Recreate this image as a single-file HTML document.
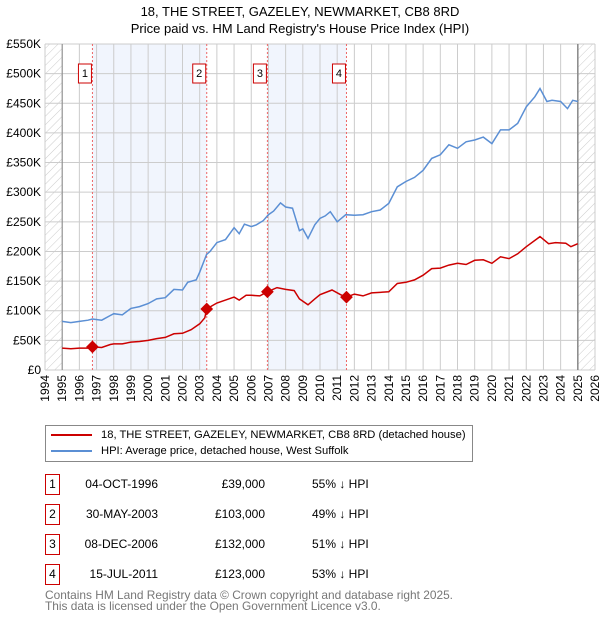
<!DOCTYPE html>
<html><head><meta charset="utf-8"><style>
body{margin:0;background:#fff;font-family:"Liberation Sans","DejaVu Sans",sans-serif;}
#wrap{position:relative;width:600px;height:620px;overflow:hidden}
.t{position:absolute;font-size:12px;color:#000;white-space:nowrap}
.box{position:absolute;border:1px solid #c00;width:13px;height:19px;font-size:12px;text-align:center;line-height:19px}
</style></head><body>
<div id="wrap">
<div class="t" style="left:0;width:600px;text-align:center;top:4px;font-size:13px">18, THE STREET, GAZELEY, NEWMARKET, CB8 8RD</div>
<div class="t" style="left:0;width:600px;text-align:center;top:21px;font-size:13px">Price paid vs. HM Land Registry's House Price Index (HPI)</div>
<svg id="chart" width="600" height="420" style="position:absolute;left:0;top:0"></svg>
<div style="position:absolute;left:45px;top:425px;width:426px;height:35px;border:1px solid #888">
 <div style="position:absolute;left:5px;top:3px;font-size:11.2px;white-space:nowrap"><span style="display:inline-block;width:41px;height:2px;background:#c00;vertical-align:middle;margin-right:9px"></span>18, THE STREET, GAZELEY, NEWMARKET, CB8 8RD (detached house)</div>
 <div style="position:absolute;left:5px;top:19px;font-size:11.2px;white-space:nowrap"><span style="display:inline-block;width:41px;height:2px;background:#5b8fd4;vertical-align:middle;margin-right:9px"></span>HPI: Average price, detached house, West Suffolk</div>
</div>
<div id="tbl"></div>
<div class="t" style="left:45px;top:590px;color:#777;font-size:11.9px;line-height:11px">Contains HM Land Registry data © Crown copyright and database right 2025.<br>This data is licensed under the Open Government Licence v3.0.</div>
</div>
<script>
const yTicks=[0,50000,100000,150000,200000,250000,300000,350000,400000,450000,500000,550000];
const yTickLabels=["£0","£50K","£100K","£150K","£200K","£250K","£300K","£350K","£400K","£450K","£500K","£550K"];
const years=[1994,1995,1996,1997,1998,1999,2000,2001,2002,2003,2004,2005,2006,2007,2008,2009,2010,2011,2012,2013,2014,2015,2016,2017,2018,2019,2020,2021,2022,2023,2024,2025,2026];
const hpiT=[1995,1995.5,1996,1996.5,1996.76,1997.3,1997.8,1998,1998.5,1999,1999.5,2000,2000.5,2001,2001.5,2002,2002.3,2002.8,2003,2003.4,2003.6,2004,2004.5,2005,2005.3,2005.6,2006,2006.3,2006.7,2007,2007.3,2007.7,2008,2008.4,2008.8,2009,2009.3,2009.7,2010,2010.3,2010.6,2011,2011.5,2012,2012.5,2013,2013.5,2014,2014.5,2015,2015.5,2016,2016.5,2017,2017.5,2018,2018.5,2019,2019.5,2020,2020.5,2021,2021.5,2022,2022.5,2022.8,2023.2,2023.5,2024,2024.4,2024.7,2025];
const hpiV=[82000,80000,82000,84000,86000,84000,92000,95000,93000,104000,107000,112000,120000,122000,136000,135000,148000,152000,165000,195000,200000,215000,220000,240000,230000,246000,242000,245000,252000,262000,268000,282000,275000,273000,235000,238000,222000,245000,256000,260000,267000,250000,262000,261000,262000,267000,270000,281000,309000,318000,325000,337000,357000,363000,380000,374000,385000,388000,393000,382000,405000,405000,416000,444000,461000,475000,453000,455000,453000,441000,455000,453000];
const ppT=[1995,1995.5,1996,1996.5,1996.76,1997.3,1997.8,1998,1998.5,1999,1999.5,2000,2000.5,2001,2001.5,2002,2002.5,2003,2003.3,2003.41,2004,2004.5,2005,2005.3,2005.7,2006,2006.5,2006.94,2007.5,2008,2008.5,2008.8,2009.3,2009.7,2010,2010.7,2011.2,2011.54,2012,2012.5,2013,2014,2014.5,2015,2015.5,2016,2016.5,2017,2017.5,2018,2018.5,2019,2019.5,2020,2020.5,2021,2021.5,2022,2022.8,2023.3,2023.7,2024.3,2024.6,2025];
const ppV=[37000,36000,37000,37000,39000,38000,43000,44000,44000,47000,48000,50000,53000,55000,61000,62000,68000,78000,88000,103000,113000,118000,123000,118000,126000,126000,125000,132000,139000,136000,134000,120000,110000,120000,127000,135000,127000,123000,128000,125000,130000,132000,146000,148000,152000,160000,171000,172000,177000,180000,178000,185000,186000,180000,191000,188000,196000,208000,225000,213000,215000,214000,208000,213000];
const saleT=[1996.76,2003.41,2006.94,2011.54];
const saleV=[39000,103000,132000,123000];
const saleLabels=["1","2","3","4"];
const saleDates=["04-OCT-1996","30-MAY-2003","08-DEC-2006","15-JUL-2011"];
const salePrices=["£39,000","£103,000","£132,000","£123,000"];
const saleDiff=["55% ↓ HPI","49% ↓ HPI","51% ↓ HPI","53% ↓ HPI"];
const L=45,R=595,T=44,B=370;
const X=t=>L+(t-1994)/32*(R-L);
const Y=v=>B-v/550000*(B-T);
const svg=document.getElementById('chart');const NS='http://www.w3.org/2000/svg';
function mk(tag,at,parent){const e=document.createElementNS(NS,tag);for(const k in at)e.setAttribute(k,at[k]);(parent||svg).appendChild(e);return e;}
const defs=mk('defs',{});
const pat=mk('pattern',{id:'hatch',width:6,height:6,patternUnits:'userSpaceOnUse',patternTransform:'rotate(45)'},defs);
mk('line',{x1:0,y1:0,x2:0,y2:6,stroke:'#ccc','stroke-width':1},pat);
let e=mk('rect',{x:L,y:T,width:X(1995)-L,height:B-T,fill:'url(#hatch)'});

e=mk('rect',{x:X(2025),y:T,width:R-X(2025),height:B-T,fill:'url(#hatch)'});

[[0,1],[2,3]].forEach((p,i)=>{const r=mk('rect',{x:X(saleT[p[0]]),y:T,width:X(saleT[p[1]])-X(saleT[p[0]]),height:B-T,fill:'#eef3fd',opacity:0.8});
});
years.forEach(y=>{const l=mk('line',{x1:X(y),x2:X(y),y1:T,y2:B,stroke:'#ccc','stroke-width':1});

const t=mk('text',{x:0,y:0,transform:`translate(${X(y)+4},375) rotate(-90)`,'text-anchor':'end','font-size':12,fill:'#000'});t.textContent=y;
});
yTicks.forEach((v,i)=>{const l=mk('line',{x1:L,x2:R,y1:Y(v),y2:Y(v),stroke:'#ccc','stroke-width':1});

const t=mk('text',{x:41,y:Y(v)+4,'text-anchor':'end','font-size':12,fill:'#000'});t.textContent=yTickLabels[i];
});
e=mk('line',{x1:X(1995),x2:X(1995),y1:T,y2:B,stroke:'#888','stroke-width':1});
e=mk('line',{x1:X(2025),x2:X(2025),y1:T,y2:B,stroke:'#888','stroke-width':1.5});
saleT.forEach((t,i)=>{const l=mk('line',{x1:X(t),x2:X(t),y1:T,y2:B,stroke:'#e66','stroke-width':1,'stroke-dasharray':'2,2'});

const r=mk('rect',{x:X(t)-14,y:64,width:13,height:19,fill:'#fff',stroke:'#c00'});

const tx=mk('text',{x:X(t)-7.5,y:77,'text-anchor':'middle','font-size':11});tx.textContent=saleLabels[i];
});
e=mk('path',{d:hpiT.map((t,i)=>(i?'L':'M')+X(t).toFixed(1)+','+Y(hpiV[i]).toFixed(1)).join(''),fill:'none',stroke:'#5b8fd4','stroke-width':1.5});

e=mk('path',{d:ppT.map((t,i)=>(i?'L':'M')+X(t).toFixed(1)+','+Y(ppV[i]).toFixed(1)).join(''),fill:'none',stroke:'#c00','stroke-width':1.5});

saleT.forEach((t,i)=>{const c=mk('rect',{x:X(t)-4.5,y:Y(saleV[i])-4.5,width:9,height:9,fill:'#c00',transform:`rotate(45 ${X(t)} ${Y(saleV[i])})`});
});
const tbl=document.getElementById('tbl');
saleT.forEach((t,i)=>{const y=474+i*30;
const d=document.createElement('div');d.className='box';d.style.left='45px';d.style.top=y+'px';d.textContent=saleLabels[i];
tbl.appendChild(d);
const a=document.createElement('div');a.className='t';a.style.left='58px';a.style.width='100px';a.style.textAlign='right';a.style.top=(y+3)+'px';a.textContent=saleDates[i];
tbl.appendChild(a);
const b=document.createElement('div');b.className='t';b.style.left='180px';b.style.width='85px';b.style.textAlign='right';b.style.top=(y+3)+'px';b.textContent=salePrices[i];
tbl.appendChild(b);
const c=document.createElement('div');c.className='t';c.style.left='312px';c.style.top=(y+3)+'px';c.textContent=saleDiff[i];
tbl.appendChild(c);});
</script>
</body></html>
